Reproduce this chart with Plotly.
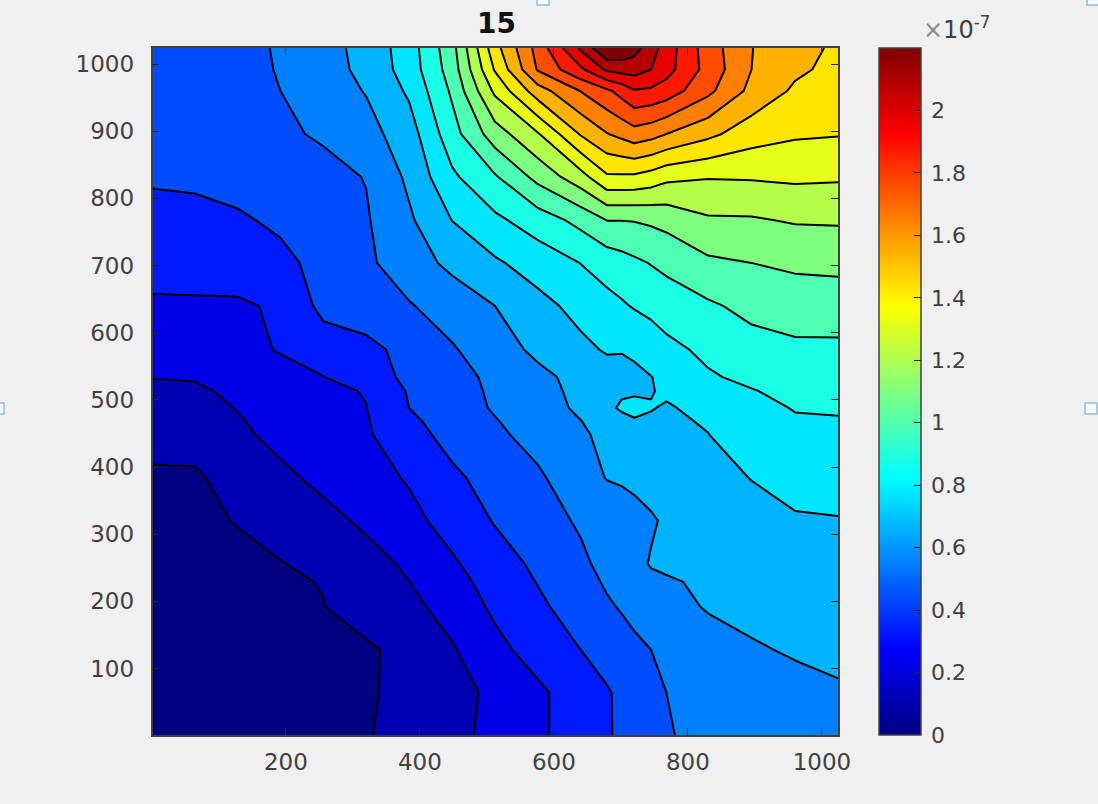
import plotly.graph_objects as go

X = [1, 64, 128, 192, 256, 320, 384, 448, 512, 576, 640, 679, 701, 720, 745, 768, 830, 895, 960, 1024]
Y = [1, 64, 128, 192, 229, 256, 320, 384, 448, 468, 488, 513, 534, 575, 640, 704, 768, 832, 896, 960, 992, 1024]

# field values in units of 1e-7, one list per Y row
Z_ROW_01 = [.02, .04, .055, .075, .085, .103, .146, .19, .25, .31, .385, .43, .457, .48, .51, .545, .57, .59, .62, .63]
Z_ROW_02 = [.03, .05, .066, .08, .09, .1, .135, .187, .24, .31, .385, .43, .46, .486, .52, .55, .58, .605, .63, .65]
Z_ROW_03 = [.044, .06, .074, .084, .09, .097, .137, .21, .3, .374, .44, .483, .508, .53, .55, .57, .605, .65, .67, .68]
Z_ROW_04 = [.055, .068, .083, .097, .108, .15, .194, .26, .35, .42, .49, .537, .558, .576, .596, .616, .67, .686, .7, .707]
Z_ROW_05 = [.061, .073, .089, .1, .113, .16, .219, .292, .373, .444, .513, .562, .59, .613, .645, .652, .672, .703, .717, .724]
Z_ROW_06 = [.066, .077, .094, .106, .135, .183, .237, .316, .39, .462, .53, .58, .614, .64, .665, .673, .693, .715, .73, .736]
Z_ROW_07 = [.083, .096, .113, .153, .19, .238, .3, .37, .447, .506, .563, .594, .61, .63, .652, .67, .715, .743, .76, .765]
Z_ROW_08 = [.094, .097, .146, .198, .245, .29, .34, .42, .48, .534, .615, .664, .672, .68, .688, .693, .745, .772, .804, .81]
Z_ROW_09 = [.146, .146, .2, .248, .282, .317, .4, .475, .53, .586, .64, .693, .72, .743, .745, .741, .768, .83, .855, .857]
Z_ROW_10 = [.162, .166, .212, .254, .288, .322, .419, .487, .544, .6, .658, .70, .735, .755, .755, .75, .78, .84, .87, .873]
Z_ROW_11 = [.18, .187, .224, .26, .294, .328, .44, .5, .56, .616, .677, .745, .785, .81, .775, .76, .8, .852, .885, .89]
Z_ROW_12 = [.202, .207, .236, .27, .31, .335, .45, .508, .566, .625, .685, .72, .755, .752, .765, .785, .84, .875, .905, .91]
Z_ROW_13 = [.223, .226, .248, .28, .328, .396, .46, .515, .572, .633, .693, .726, .742, .745, .768, .79, .87, .9, .93, .933]
Z_ROW_14 = [.26, .26, .286, .34, .385, .41, .475, .54, .61, .684, .746, .78, .775, .79, .825, .856, .9, .95, .97, .97]
Z_ROW_15 = [.317, .317, .315, .345, .47, .5, .542, .6, .66, .737, .803, .847, .867, .888, .906, .924, .974, 1.02, 1.04, 1.043]
Z_ROW_16 = [.364, .369, .385, .416, .47, .53, .61, .685, .755, .818, .882, .924, .948, .97, .995, 1.02, 1.08, 1.1, 1.12, 1.127]
Z_ROW_17 = [.41, .413, .428, .457, .5, .54, .644, .772, .858, .935, 1.023, 1.103, 1.103, 1.106, 1.118, 1.133, 1.197, 1.2, 1.22, 1.223]
Z_ROW_18 = [.451, .457, .473, .495, .52, .554, .682, .86, .978, 1.133, 1.276, 1.414, 1.414, 1.411, 1.385, 1.348, 1.326, 1.33, 1.34, 1.334]
Z_ROW_19 = [.473, .484, .506, .534, .562, .62, .72, .946, 1.157, 1.31, 1.55, 1.645, 1.68, 1.716, 1.69, 1.65, 1.568, 1.48, 1.444, 1.436]
Z_ROW_20 = [.495, .506, .52, .55, .605, .666, .787, 1.007, 1.342, 1.6, 1.763, 1.848, 1.91, 1.97, 1.96, 1.93, 1.787, 1.62, 1.522, 1.48]
Z_ROW_21 = [.512, .52, .525, .555, .616, .688, .82, 1.04, 1.44, 1.77, 1.96, 2.11, 2.13, 2.14, 2.09, 2.02, 1.83, 1.65, 1.56, 1.51]
Z_ROW_22 = [.525, .53, .535, .555, .62, .696, .827, 1.06, 1.5, 1.8, 2.11, 2.31, 2.29, 2.24, 2.14, 2.035, 1.815, 1.653, 1.573, 1.524]

Z = [Z_ROW_01, Z_ROW_02, Z_ROW_03, Z_ROW_04, Z_ROW_05, Z_ROW_06, Z_ROW_07, Z_ROW_08, Z_ROW_09, Z_ROW_10, Z_ROW_11,
     Z_ROW_12, Z_ROW_13, Z_ROW_14, Z_ROW_15, Z_ROW_16, Z_ROW_17, Z_ROW_18, Z_ROW_19, Z_ROW_20, Z_ROW_21, Z_ROW_22]

X_TICKS = [200, 400, 600, 800, 1000]
Y_TICKS = [100, 200, 300, 400, 500, 600, 700, 800, 900, 1000]
CBAR_TICKS = [0, .2, .4, .6, .8, 1, 1.2, 1.4, 1.6, 1.8, 2]
CBAR_LABELS = ["0", "0.2", "0.4", "0.6", "0.8", "1", "1.2", "1.4", "1.6", "1.8", "2"]
TITLE = "15"

JET = [[0, "#000080"], [0.125, "#0000ff"], [0.375, "#00ffff"], [0.625, "#ffff00"], [0.875, "#ff0000"], [1, "#800000"]]

W, H = 1098, 804
MARGIN_R = 12
PLOT_W = W - MARGIN_R
BG = "#f0f0f0"
INK = "#404040"
FONT = "DejaVu Sans"
TICK_SIZE = 23


def px(v):
    return v / PLOT_W


def py(v):
    return 1 - v / H


fig = go.Figure()
# smooth colour ramp for the colour bar; it lies beneath the filled contours
fig.add_trace(go.Heatmap(
    x=X, y=Y, z=Z, zmin=0, zmax=2.2, colorscale=JET, hoverinfo="skip",
    colorbar=dict(
        x=px(879), xanchor="left", y=py(735), yanchor="bottom",
        len=687 / H, lenmode="fraction", thickness=42, thicknessmode="pixels",
        xpad=0, ypad=0, outlinecolor=INK, outlinewidth=1.5, borderwidth=0,
        tickmode="array", tickvals=CBAR_TICKS, ticktext=["\u2009" + t for t in CBAR_LABELS],
        ticks="inside", ticklen=7, tickcolor="#262626", tickwidth=1,
        tickfont=dict(family=FONT, size=TICK_SIZE - 1, color=INK),
    ),
))
fig.add_trace(go.Contour(
    x=X, y=Y, z=Z, colorscale=JET, showscale=False, hoverinfo="skip",
    autocontour=False,
    contours=dict(start=0.11, end=2.205, size=0.11, coloring="fill", showlines=True),
    line=dict(color="black", width=2, smoothing=0),
))

axis_common = dict(
    range=[1, 1024], showgrid=False, zeroline=False, showline=True, linecolor=INK, linewidth=1.5,
    mirror="ticks", ticks="inside", ticklen=7, tickcolor="#262626", tickwidth=1,
    tickfont=dict(family=FONT, size=TICK_SIZE, color=INK), tickmode="array",
)

handles = [(537, -6, 549, 5), (-6, 403, 4, 414), (1085, 403, 1097, 414), (1087, -6, 1099, 5)]
shapes = [
    dict(type="rect", xref="paper", yref="paper", x0=px(a), x1=px(c), y0=py(b), y1=py(d),
         line=dict(color="#8fbce0", width=1.5), fillcolor="#f7fafd", layer="above")
    for a, b, c, d in handles
]

fig.update_layout(
    width=W, height=H, autosize=False,
    margin=dict(l=0, r=MARGIN_R, t=0, b=0, pad=0),
    paper_bgcolor=BG, plot_bgcolor=BG, showlegend=False,
    xaxis=dict(domain=[px(152.5), px(838)], tickvals=X_TICKS, ticktext=[str(t) for t in X_TICKS],
               ticklabelstandoff=6, **axis_common),
    yaxis=dict(domain=[py(735), py(48)], tickvals=Y_TICKS, ticktext=[str(t) for t in Y_TICKS],
               ticklabelstandoff=12, **axis_common),
    shapes=shapes,
    annotations=[
        dict(text="<b>%s</b>" % TITLE, xref="paper", yref="paper", x=px(496), y=py(24), xanchor="center",
             yanchor="middle", showarrow=False, font=dict(family=FONT, size=28, color="#111111")),
        dict(text="<span style='color:#8a8a8a'>×</span>10<sup>-7</sup>", xref="paper", yref="paper", x=px(921),
             y=py(28), xanchor="left", yanchor="middle", showarrow=False,
             font=dict(family=FONT, size=24, color=INK)),
    ],
)

fig.write_html(
    "out.html",
    config={"displayModeBar": False},
    post_script="document.body.style.margin='0';document.body.style.overflow='hidden';document.body.style.background='%s';" % BG,
)
